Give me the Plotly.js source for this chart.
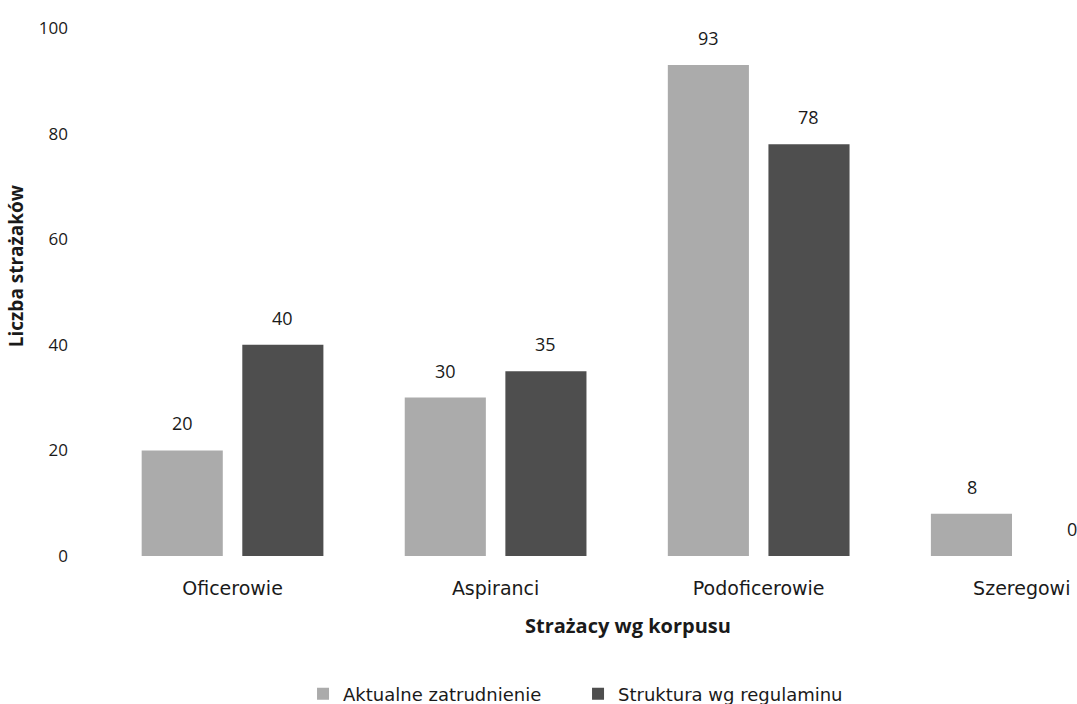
<!DOCTYPE html>
<html><head><meta charset="utf-8">
<script src="https://cdn.plot.ly/plotly-3.0.1.min.js"></script>
<style>html,body{margin:0;padding:0;background:#fff;overflow:hidden}</style>
</head><body>
<div id="chart" style="width:1077px;height:704px"></div>
<script>
const categories = ["Oficerowie", "Aspiranci", "Podoficerowie", "Szeregowi"];
const aktualne = [20, 30, 93, 8];
const struktura = [40, 35, 78, 0];
const seriesNames = ["Aktualne zatrudnienie", "Struktura wg regulaminu"];
const yTicks = [0, 20, 40, 60, 80, 100];

const numFont = "Open Sans, Liberation Sans, sans-serif";
const txtFont = "DejaVu Sans, sans-serif";
const series = [aktualne, struktura];
const colors = ["#ababab", "#4e4e4e"];
const traces = series.map((vals, i) => ({
  type:"bar", name:seriesNames[i], x:categories, y:vals,
  marker:{color:colors[i], line:{width:0}}
}));

// value labels placed above each bar through the axes' own scales
const labelAnnots = [];
series.forEach((vals, i) => {
  vals.forEach((v, j) => {
    labelAnnots.push({
      x: categories[j], y: v, xref:"x", yref:"y", text: String(v),
      xshift: i === 0 ? -50 : 50, yshift: 13, yanchor:"bottom", xanchor:"center",
      showarrow:false, font:{family:numFont, size:18, color:"#1a1a1a"}
    });
  });
});

const layout = {
  width:1077, height:704,
  margin:{l:101, r:0, t:28, b:148, autoexpand:false},
  paper_bgcolor:"#fff", plot_bgcolor:"#fff",
  barmode:"group", bargap:0.235, bargroupgap:0.194,
  font:{family:txtFont, size:17, color:"#1a1a1a"},
  showlegend:true,
  legend:{orientation:"h", x:0.207, xanchor:"left", yref:"container", y:0.014, yanchor:"middle",
    entrywidth:230, entrywidthmode:"pixels",
    font:{family:txtFont, size:18, color:"#1a1a1a"}, traceorder:"normal"},
  xaxis:{type:"category", range:[-0.5, 3.21], showgrid:false, zeroline:false, showline:false,
    ticks:"", tickfont:{family:txtFont, size:19, color:"#1a1a1a"}, ticklabelstandoff:19, automargin:false},
  yaxis:{range:[0,100], tickvals:yTicks, showgrid:false, zeroline:false, showline:false,
    ticks:"", tickfont:{family:numFont, size:17, color:"#1a1a1a"}, ticklabelstandoff:32, automargin:false},
  annotations: labelAnnots.concat([
    {text:"<b>Strażacy wg korpusu</b>", xref:"paper", yref:"paper", x:0.540, y:-0.131,
     xanchor:"center", yanchor:"middle", showarrow:false, font:{family:numFont, size:20, color:"#1a1a1a"}},
    {text:"<b>Liczba strażaków</b>", xref:"paper", yref:"paper", x:-0.087, y:0.549,
     xanchor:"center", yanchor:"middle", textangle:-90, showarrow:false, font:{family:numFont, size:19, color:"#1a1a1a"}}
  ])
};
Plotly.newPlot("chart", traces, layout, {displayModeBar:false, staticPlot:true});
</script>
</body></html>
